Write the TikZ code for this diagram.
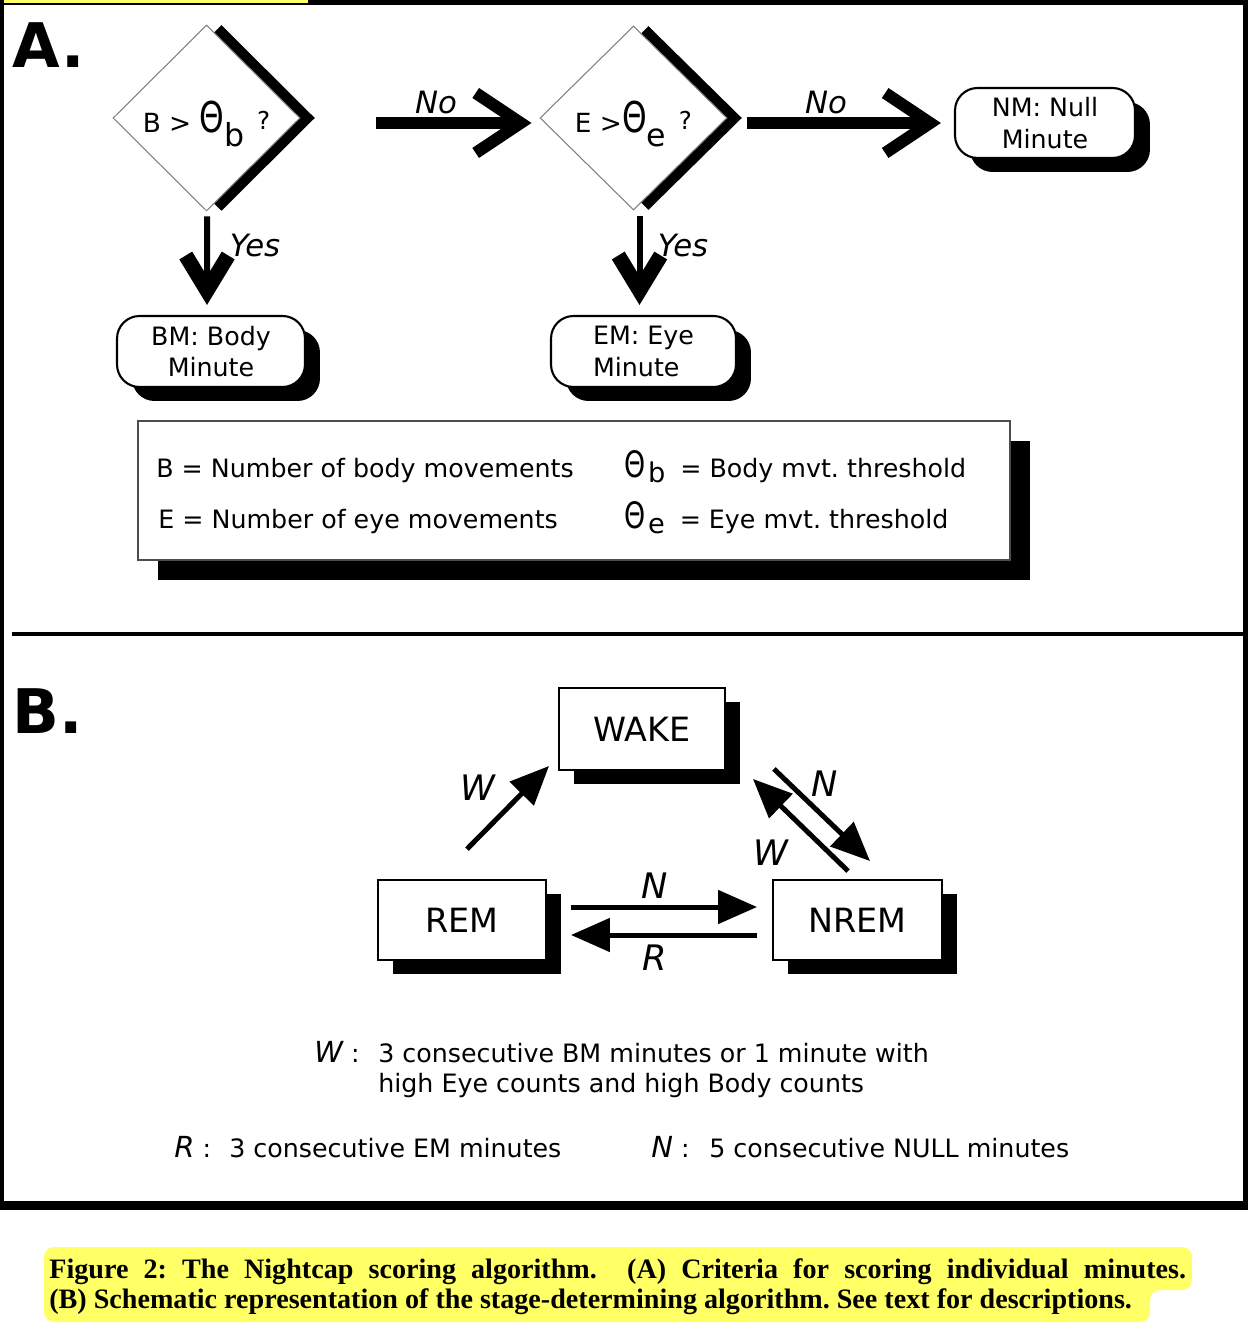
\documentclass[tikz,border=0pt]{standalone}
\usepackage{fontspec}
\usepackage{graphicx}
\setmainfont{DejaVu Sans}
\newfontfamily\captionfont{Liberation Serif}
\usetikzlibrary{positioning}
\usetikzlibrary{shapes.geometric}
\usetikzlibrary{shadows}
\usetikzlibrary{arrows.meta}

\definecolor{marker}{RGB}{255,255,102}

\tikzset{
	every node/.style={inner sep=0pt, font=\fontsize{14.4}{18.1}\selectfont},
	decision/.style={draw=black!50, line width=0.6pt, fill=white, shape=diamond,
		minimum width=3.74cm, minimum height=3.68cm, font=\fontsize{15}{15}\selectfont,
		drop shadow={shadow xshift=0.3cm, shadow yshift=0cm, fill=black, opacity=1}},
	terminal/.style={draw, line width=1.2pt, fill=white, rounded corners=0.45cm,
		minimum height=1.42cm,
		drop shadow={shadow xshift=0.3cm, shadow yshift=-0.28cm, fill=black, opacity=1}},
	keybox/.style={draw=black!70, line width=0.8pt, fill=white,
		minimum width=17.44cm, minimum height=2.78cm,
		drop shadow={shadow xshift=0.4cm, shadow yshift=-0.4cm, fill=black, opacity=1}},
	stage/.style={draw, line width=1.1pt, fill=white, minimum height=1.6cm,
		font=\fontsize{19}{19}\selectfont,
		drop shadow={shadow xshift=0.3cm, shadow yshift=-0.28cm, fill=black, opacity=1}},
	noarrow/.style={line width=0.24cm, -{Straight Barb[length=0.9cm, width=1.2cm]}},
	yesarrow/.style={line width=0.12cm, -{Straight Barb[length=0.7cm, width=0.85cm, line width=0.3cm]}},
	stagearrow/.style={line width=0.1cm, -{Triangle[length=0.78cm, width=0.66cm]}},
	armlabel/.style={font=\fontsize{17.5}{17.5}\selectfont\itshape},
	edgelabel/.style={font=\fontsize{20}{20}\selectfont\itshape},
	panel/.style={font=\fontsize{35}{35}\selectfont\bfseries, anchor=base west},
	keytext/.style={anchor=base west},
	captext/.style={anchor=base west, font=\captionfont\bfseries\fontsize{16}{18}\selectfont},
}

\newcommand{\tallTheta}[1]{{\fontsize{#1}{#1}\selectfont\scalebox{0.85}[1.15]{Θ}}}

\begin{document}
\frenchspacing
\begin{tikzpicture}[x=0.02cm, y=-0.02cm]
	\useasboundingbox (0,0) rectangle (1248,1334);

	% frame
	\fill (0,0) rectangle (1248,5);
	\fill[marker] (0,0) rectangle (308,3);
	\fill (0,0) rectangle (4,1210);
	\fill (1243,0) rectangle (1248,1210);
	\fill (0,1201) rectangle (1248,1210);
	\fill (12,632) rectangle (1243,636);

	% panel A
	\node[panel] (labelA) at (12,68) {A.};

	\node[decision] (d1) at (206.5,118) {B > \tallTheta{21}\raisebox{-0.28cm}{\fontsize{18}{18}\selectfont b}\, \raisebox{0.06cm}{\fontsize{14}{14}\selectfont ?}\rule{0pt}{0.88cm}};
	\node[decision] (d2) at (633.5,118) {E >\tallTheta{21}\raisebox{-0.28cm}{\fontsize{18}{18}\selectfont e}\, \raisebox{0.06cm}{\fontsize{14}{14}\selectfont ?}\rule{0pt}{0.88cm}};

	\node[terminal, minimum width=3.76cm, align=center] (bm) at (211,351.5) {BM: Body\\Minute};
	\node[terminal, minimum width=3.7cm, align=left] (em) at (643.5,351.5) {EM: Eye\\Minute};
	\node[terminal, minimum width=3.6cm, minimum height=1.4cm, align=center] (nm) at (1045,123) {NM: Null\\Minute};

	\draw[noarrow] ([shift={(75,5)}]d1.east) -- ([shift={(-8,5)}]d2.west);
	\draw[noarrow] ([shift={(19,5)}]d2.east) -- ([shift={(-13,0)}]nm.west);
	\draw[yesarrow] ([shift={(0.5,5)}]d1.south) -- ([shift={(-4,-10)}]bm.north);
	\draw[yesarrow] ([shift={(6,5)}]d2.south) -- ([shift={(-4,-10)}]em.north);

	\node[armlabel] (no1) at (436,103) {No};
	\node[armlabel] (no2) at (826,103) {No};
	\node[armlabel] (yes1) at (255,246) {Yes};
	\node[armlabel] (yes2) at (683,246) {Yes};

	% key of panel A
	\node[keybox] (key) at (574,490.5) {};
	\node[keytext] (keyB) at (156,477) {B = Number of body movements};
	\node[keytext] (keyE) at (158,528) {E = Number of eye movements};
	\node[keytext] (keyTb) at (624,477) {\tallTheta{18}\hspace{0.05cm}\raisebox{-0.1cm}{\fontsize{15.5}{15.5}\selectfont b}\hspace{0.3cm}= Body mvt. threshold};
	\node[keytext] (keyTe) at (624,528) {\tallTheta{18}\hspace{0.05cm}\raisebox{-0.1cm}{\fontsize{15.5}{15.5}\selectfont e}\hspace{0.3cm}= Eye mvt. threshold};

	% panel B
	\node[panel] (labelB) at (12,733) {B.};

	\node[stage, minimum width=3.32cm, minimum height=1.64cm] (wake) at (642,729) {WAKE};
	\node[stage, minimum width=3.36cm] (rem) at (462,920) {REM};
	\node[stage, minimum width=3.38cm] (nrem) at (857.5,920) {NREM};

	\draw[stagearrow] ([shift={(5,-30)}]rem.north) -- ([shift={(-9,-5)}]wake.south west);
	\draw[stagearrow] ([shift={(48,-2)}]wake.south east) -- ([shift={(12.5,-18)}]nrem.north);
	\draw[stagearrow] ([shift={(-9.5,-8)}]nrem.north) -- ([shift={(27,8)}]wake.south east);
	\draw[stagearrow] ([shift={(24,-13)}]rem.east) -- ([shift={(-15,-13)}]nrem.west);
	\draw[stagearrow] ([shift={(-15,15)}]nrem.west) -- ([shift={(24,15)}]rem.east);

	\node[edgelabel] (lw1) at (478,788) {W};
	\node[edgelabel] (ln1) at (825,784) {N};
	\node[edgelabel] (lw2) at (771,853) {W};
	\node[edgelabel] (ln2) at (655,886) {N};
	\node[edgelabel] (lr) at (655,958) {R};

	% key of panel B
	\node[keytext] (wkey) at (314,1062) {{\fontsize{16.5}{16.5}\selectfont\itshape W} :};
	\node[keytext] (wtext1) at (378,1062) {3 consecutive BM minutes or 1 minute with};
	\node[keytext] (wtext2) at (378,1092) {high Eye counts and high Body counts};
	\node[keytext] (rkey) at (174,1157) {{\fontsize{16.5}{16.5}\selectfont\itshape R} :};
	\node[keytext] (rtext) at (229,1157) {3 consecutive EM minutes};
	\node[keytext] (nkey) at (651,1157) {{\fontsize{16.5}{16.5}\selectfont\itshape N} :};
	\node[keytext] (ntext) at (709,1157) {5 consecutive NULL minutes};

	% caption
	\fill[marker, rounded corners=0.2cm] (44,1247) -- (1192,1247) -- (1192,1290) -- (1150,1290) -- (1150,1322) -- (44,1322) -- cycle;
	\node[captext] (cap1) at (49,1278) {\makebox[22.74cm][s]{Figure 2: The Nightcap scoring algorithm.\ \ (A) Criteria for scoring individual minutes.}};
	\node[captext] (cap2) at (49,1308) {(B) Schematic representation of the stage-determining algorithm. See text for descriptions.};
\end{tikzpicture}
\end{document}
